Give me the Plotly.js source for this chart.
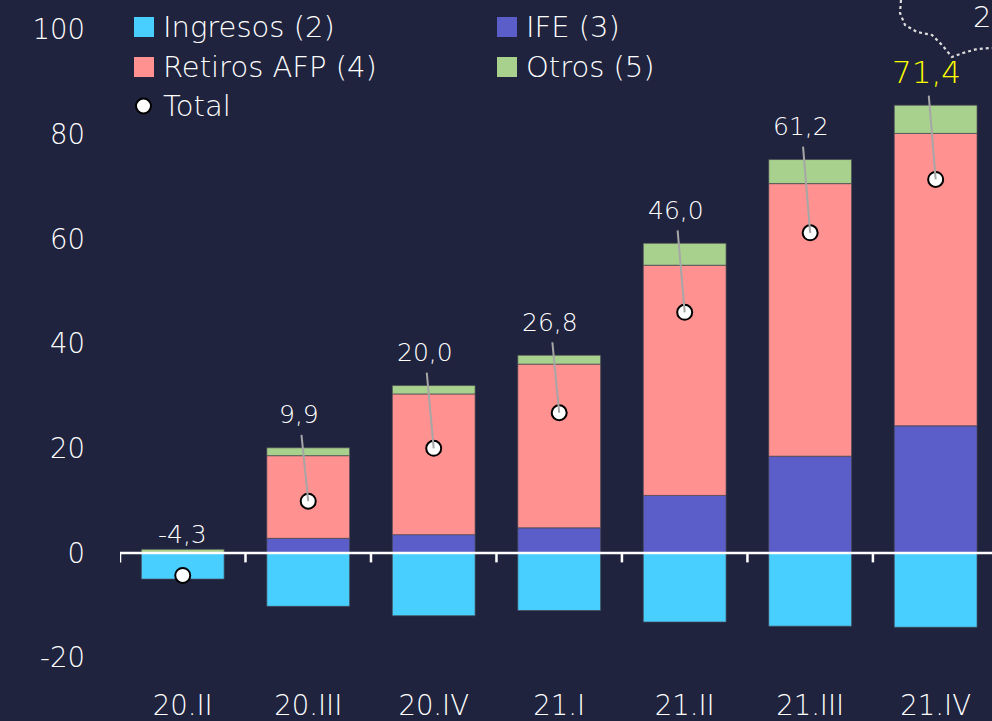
<!DOCTYPE html>
<html><head><meta charset="utf-8">
<script src="https://cdn.plot.ly/plotly-3.0.1.min.js"></script>
<style>html,body{margin:0;padding:0;background:#1f233e;overflow:hidden;}</style>
</head><body><div id="chart" style="width:992px;height:721px;"></div>
<script>
// ---- data ----
const categories = ['20.II','20.III','20.IV','21.I','21.II','21.III','21.IV'];
const ingresos = [-5.0,-10.2,-12.0,-11.0,-13.2,-14.0,-14.2];
const ife      = [0.0, 2.8, 3.5, 4.8, 11.0, 18.5, 24.3];
const retiros  = [0.0, 15.8, 26.9, 31.3, 44.0, 52.1, 55.9];
const otros    = [0.7, 1.5, 1.6, 1.7, 4.2, 4.6, 5.4];
const totals   = [-4.3, 9.9, 20.0, 26.8, 46.0, 61.2, 71.4];
const yTicks   = [-20, 0, 20, 40, 60, 80, 100];
const seriesNames = ['Ingresos (2)','IFE (3)','Retiros AFP (4)','Otros (5)','Total'];

// ---- style ----
const BG = '#1f233e';
const COLORS = ['#48cfff','#5b5ec8','#ff9190','#a9d18e'];
const TXT = '#ffffff';
const FONT = '"DejaVu Sans", "Open Sans", sans-serif';
const FW = 200;
const W = 992, H = 721, ML = 120, MR = 0, MT = 0, MB = 35;
const PW = W - ML - MR, PH = H - MT - MB;
const px2x = p => (p - ML) / PW;
const px2y = p => (PH + MT - p) / PH;

const idx = categories.map((c, i) => i);
const barLine = {color: 'rgba(70,70,80,0.7)', width: 1};
const barSeries = [ingresos, ife, retiros, otros];
const traces = barSeries.map((vals, k) => ({
  type: 'bar', x: idx, y: vals, name: seriesNames[k], width: 0.66,
  marker: {color: COLORS[k], line: barLine}, showlegend: false, hoverinfo: 'y'
}));
traces.push({
  type: 'scatter', mode: 'markers', x: idx, y: totals, name: 'Total',
  marker: {size: 15, color: '#ffffff', line: {color: '#000000', width: 2}},
  showlegend: false, cliponaxis: false
});

const fmt = v => v.toFixed(1).replace('.', ',');
const annotations = [];
const shapes = [];

// value labels with leader lines
totals.forEach((t, i) => {
  const top = Math.max(0, ife[i]) + Math.max(0, retiros[i]) + Math.max(0, otros[i]) + Math.max(0, ingresos[i]);
  const last = i === totals.length - 1;
  const font = {family: FONT, weight: FW, size: last ? 31 : 25, color: last ? '#ffff00' : TXT};
  if (t < 0) {
    annotations.push({x: i, y: 0, xref: 'x', yref: 'y', text: fmt(t), showarrow: false,
      yanchor: 'bottom', yshift: 2, font: font});
  } else {
    annotations.push({x: i, y: t, xref: 'x', yref: 'y', text: fmt(t),
      axref: 'x', ayref: 'y', ax: i - 0.07, ay: top + 6.3,
      showarrow: true, arrowhead: 0, arrowwidth: 2, arrowcolor: '#a6a6a6',
      borderpad: 5, standoff: 0, font: font});
  }
});

// axis line at zero and category boundary ticks
shapes.push({type: 'line', xref: 'paper', yref: 'y', x0: 0, x1: 1, y0: 0, y1: 0,
  line: {color: '#ffffff', width: 2.5}, layer: 'above'});
for (let i = 0; i <= categories.length; i++) {
  shapes.push({type: 'line', xref: 'x', yref: 'y', x0: i - 0.5, x1: i - 0.5, y0: 0, y1: -1.8,
    line: {color: '#ffffff', width: 2.5}, layer: 'above'});
}

// custom legend
const legendItems = [
  {k: 0, col: 0, row: 0}, {k: 1, col: 1, row: 0},
  {k: 2, col: 0, row: 1}, {k: 3, col: 1, row: 1},
  {k: 4, col: 0, row: 2}
];
const colX = [134, 497], rowY = [27, 67, 106], SQ = 20;
legendItems.forEach(it => {
  const cx = colX[it.col], cy = rowY[it.row];
  if (it.k < 4) {
    shapes.push({type: 'rect', xref: 'paper', yref: 'paper',
      x0: px2x(cx), x1: px2x(cx + SQ), y0: px2y(cy - SQ / 2), y1: px2y(cy + SQ / 2),
      fillcolor: COLORS[it.k], line: {width: 0}});
  } else {
    shapes.push({type: 'circle', xref: 'paper', yref: 'paper',
      x0: px2x(cx + 2), x1: px2x(cx + 17), y0: px2y(cy - 7.5), y1: px2y(cy + 7.5),
      fillcolor: '#ffffff', line: {color: '#000000', width: 2}});
  }
  annotations.push({xref: 'paper', yref: 'paper', x: px2x(cx + SQ + 7), y: px2y(cy),
    xanchor: 'left', yanchor: 'middle', text: seriesNames[it.k], showarrow: false,
    font: {family: FONT, weight: FW, size: 29, color: TXT}});
});

// decorative dotted callout at the top right (cut off in the original)
const pts = [[901,0],[900,13],[905,25],[917,32],[932,35],[942,45],[952,57],[963,53],[977,49],[992,48]];
let d = 'M' + px2x(pts[0][0]) + ',' + px2y(pts[0][1]);
for (let i = 1; i < pts.length; i++) d += ' L' + px2x(pts[i][0]) + ',' + px2y(pts[i][1]);
shapes.push({type: 'path', xref: 'paper', yref: 'paper', path: d,
  line: {color: '#dcdcdc', width: 2.2, dash: 'dot'}});
annotations.push({xref: 'paper', yref: 'paper', x: 1, y: px2y(17), xanchor: 'right',
  yanchor: 'middle', text: '2', showarrow: false, borderpad: 0,
  font: {family: FONT, weight: FW, size: 29, color: TXT}});

const tickFont = {family: FONT, weight: FW, size: 27.5, color: TXT};
const layout = {
  width: W, height: H,
  margin: {l: ML, r: MR, t: MT, b: MB, pad: 0},
  paper_bgcolor: BG, plot_bgcolor: BG,
  barmode: 'relative', showlegend: false,
  font: {family: FONT, color: TXT, size: 28},
  xaxis: {type: 'linear', range: [-0.5, 6.449], tickmode: 'array', tickvals: idx, ticktext: categories,
    showgrid: false, zeroline: false, showline: false, ticks: '',
    tickfont: tickFont, ticklabelstandoff: 0, fixedrange: true},
  yaxis: {range: [-25.43, 105.7], tickmode: 'array', tickvals: yTicks, ticktext: yTicks.map(String),
    showgrid: false, zeroline: false, showline: false, ticks: '',
    tickfont: tickFont, ticklabelstandoff: 34, fixedrange: true},
  shapes: shapes, annotations: annotations
};
Plotly.newPlot('chart', traces, layout, {displayModeBar: false, staticPlot: true});
</script></body></html>
